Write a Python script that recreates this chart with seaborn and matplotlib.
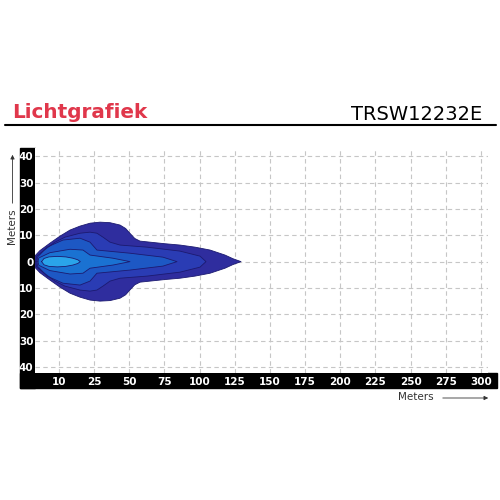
import numpy as np
import pandas as pd
import matplotlib
matplotlib.use('Agg')
import matplotlib.pyplot as plt
import seaborn as sns
from matplotlib.patches import Rectangle, FancyArrowPatch

sns.set_style('white')
plt.rcParams['font.family'] = ['DejaVu Sans']

# tick positions (meters) and the labels printed under them
x_ticks = [0, 25, 50, 75, 100, 125, 150, 175, 200, 225, 250, 275, 300]
x_labels = ['10', '25', '50', '75', '100', '125', '150', '175', '200', '225', '250', '275', '300']
y_ticks = [40, 30, 20, 10, 0, -10, -20, -30, -40]
y_labels = ['40', '30', '20', '10', '0', '10', '20', '30', '40']

# upper half of each iso-lux contour (distance m, half width m), outer -> inner
zone1_x = [-16.9, -16.9, -13.4, -6.3, 0.9, 8.0, 15.1, 22.2, 29.3, 36.4, 43.5, 47.5, 50.5, 54.0, 57.7, 64.8, 75.5, 86.1, 96.8, 107.5, 118.1, 123.8, 129.5]
zone1_y = [0.0, 2.2, 4.2, 7.0, 9.7, 12.0, 13.5, 14.6, 15.0, 14.8, 13.9, 12.6, 10.8, 8.8, 7.8, 7.4, 6.8, 6.3, 5.5, 4.4, 2.5, 1.1, 0.0]
zone2_x = [-16.2, -15.8, -9.8, -2.7, 4.4, 15.1, 22.2, 27.1, 31.4, 36.4, 43.5, 62.7, 86.1, 100.3, 104.6]
zone2_y = [0.0, 2.0, 4.6, 7.4, 9.3, 10.8, 11.2, 10.8, 9.3, 7.4, 6.3, 5.5, 4.0, 2.1, 0.0]
zone3_x = [-15.5, -15.0, -8.4, 3.0, 15.1, 22.2, 27.1, 50.6, 74.0, 84.0]
zone3_y = [0.0, 1.8, 5.5, 8.2, 8.9, 7.4, 4.4, 3.2, 1.7, 0.0]
zone4_x = [-14.8, -14.2, -6.3, 8.0, 17.2, 22.2, 38.5, 50.6]
zone4_y = [0.0, 1.4, 3.4, 4.7, 4.4, 2.5, 1.3, 0.0]
zone5_x = [-12.2, -10.5, -7.0, -1.0, 5.0, 10.0, 13.5, 15.3]
zone5_y = [0.0, 1.2, 1.8, 2.0, 1.8, 1.3, 0.7, 0.0]

zones = [(zone1_x, zone1_y), (zone2_x, zone2_y), (zone3_x, zone3_y),
         (zone4_x, zone4_y), (zone5_x, zone5_y)]
zone_colors = ['#2f2d9e', '#2a3cb4', '#1d58c4', '#1a72d2', '#2aa4ea']

fig = plt.figure(figsize=(5, 5), dpi=100)

# black bands behind tick labels
fig.patches.append(Rectangle((0.04, 0.225), 0.029, 0.479, transform=fig.transFigure,
                             color='black', zorder=-1))
fig.patches.append(Rectangle((0.04, 0.225), 0.954, 0.0296, transform=fig.transFigure,
                             color='black', zorder=-1))

ax = fig.add_axes([0.07, 0.2546, 0.906, 0.449])
ax.set_zorder(2)

for (zx, zy), c in zip(zones, zone_colors):
    xs = list(zx) + list(zx[::-1])
    ys = list(zy) + [-v for v in zy[::-1]]
    ax.fill(xs, ys, color=c, zorder=2, lw=0)
    df = pd.DataFrame({'x': xs, 'y': ys})
    sns.lineplot(data=df, x='x', y='y', sort=False, estimator=None, ax=ax,
                 color='#1c1a70', lw=0.6, zorder=3)

ax.set_xlim(-16.9, 305)
ax.set_ylim(-42.2, 43.1)
ax.set_xticks(x_ticks)
ax.set_xticklabels(x_labels, color='white', fontsize=7.5, fontweight='bold')
ax.set_yticks(y_ticks)
ax.set_yticklabels(y_labels, color='white', fontsize=7.5, fontweight='bold')
ax.tick_params(axis='x', length=0, pad=3)
ax.tick_params(axis='y', length=0, pad=1)
ax.grid(True, color='#c6c6c6', ls=(0, (4, 3)), lw=0.8)
ax.set_axisbelow(True)
for s in ax.spines.values():
    s.set_visible(False)
ax.set_xlabel('')
ax.set_ylabel('')

# header
fig.text(0.024, 0.764, 'Lichtgrafiek', color='#e0374b', fontsize=14.4, fontweight='bold')
fig.text(0.964, 0.76, 'TRSW12232E', color='black', fontsize=14, ha='right')
fig.add_artist(plt.Line2D([0.01, 0.992], [0.75, 0.75], color='black', lw=1.5))

# axis titles with arrows
fig.text(0.025, 0.548, 'Meters', rotation=90, fontsize=7.5, color='#333333',
         ha='center', va='center')
fig.add_artist(FancyArrowPatch((0.025, 0.588), (0.025, 0.696),
               transform=fig.transFigure, arrowstyle='-|>', mutation_scale=6,
               color='#333333', lw=0.6))
fig.text(0.832, 0.205, 'Meters', fontsize=7.5, color='#333333', ha='center', va='center')
fig.add_artist(FancyArrowPatch((0.88, 0.204), (0.982, 0.204),
               transform=fig.transFigure, arrowstyle='-|>', mutation_scale=6,
               color='#333333', lw=0.6))

fig.savefig('out.png', dpi=100)
